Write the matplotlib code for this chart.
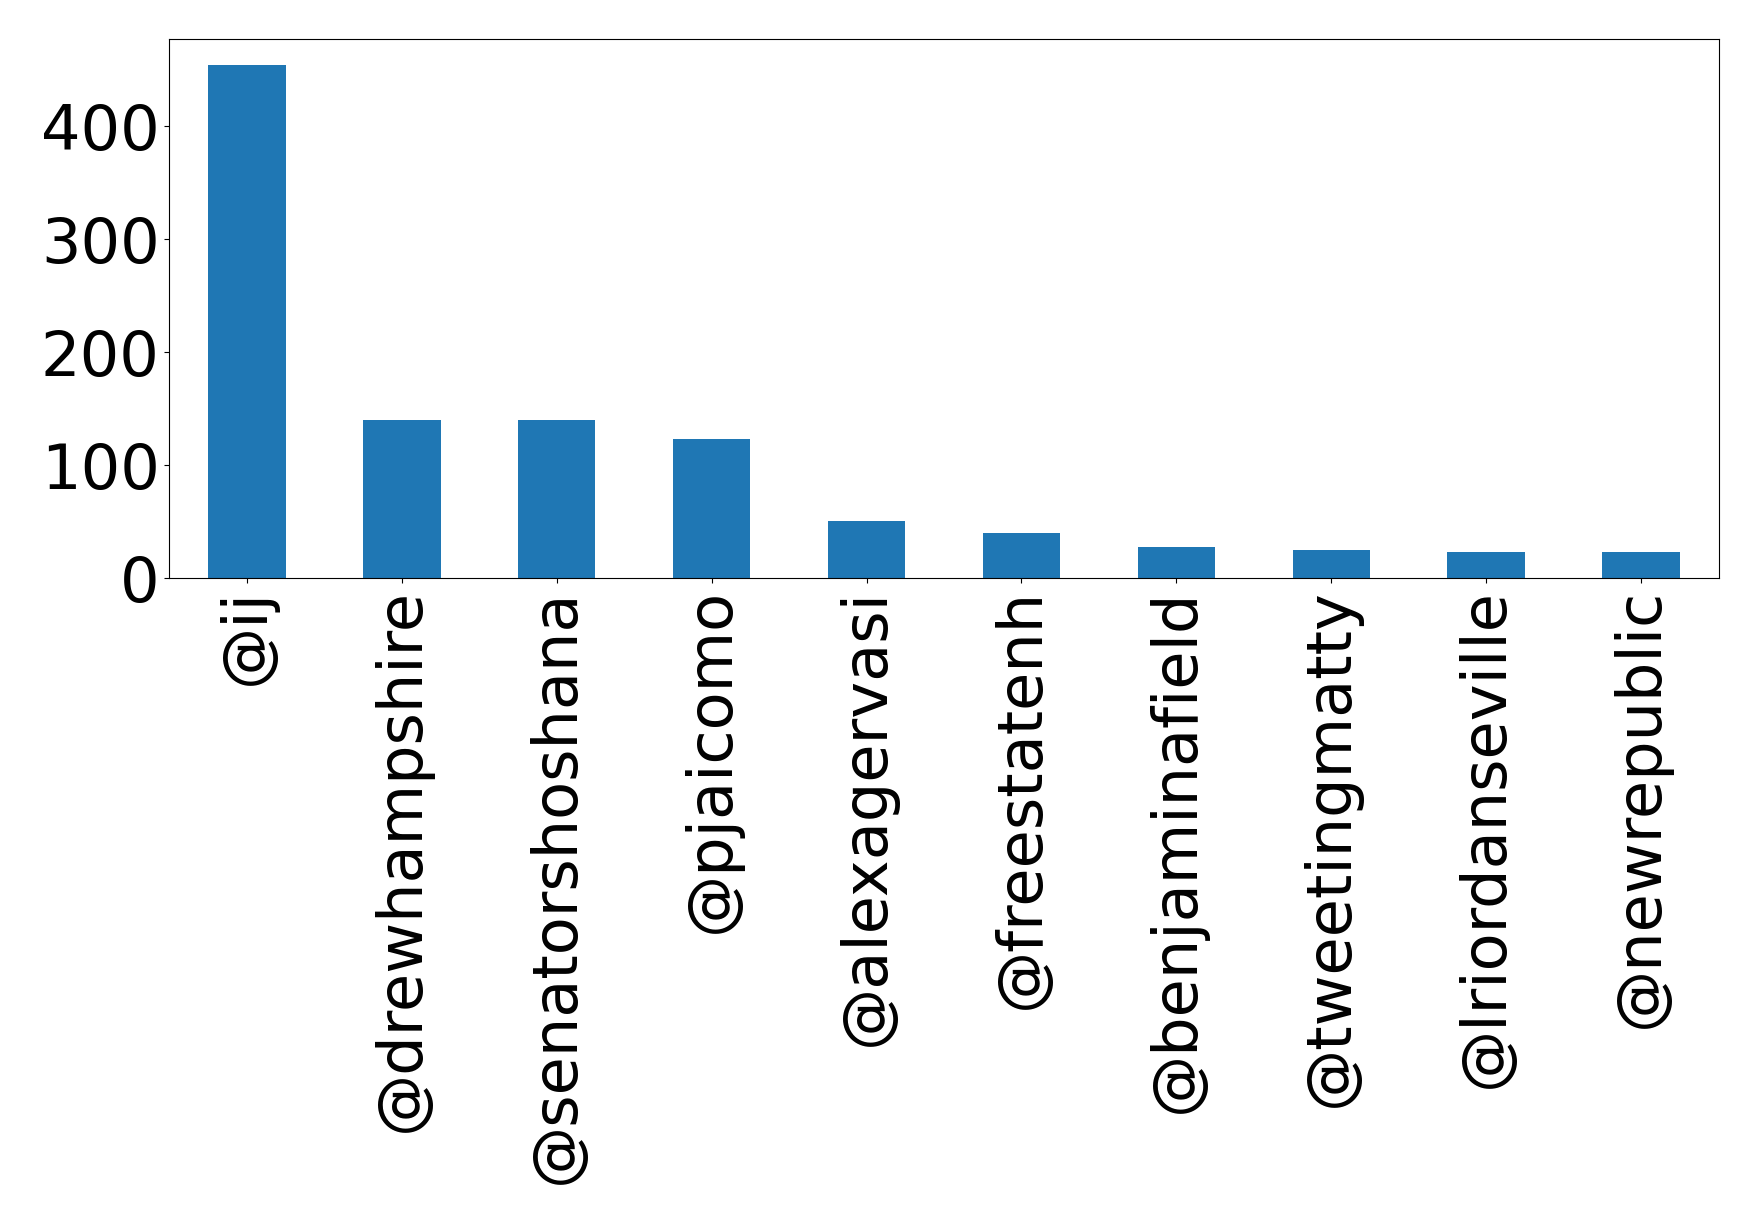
import matplotlib
matplotlib.use("Agg")
import matplotlib.pyplot as plt

users = ["@ij", "@drewhampshire", "@senatorshoshana", "@pjaicomo", "@alexagervasi",
         "@freestatenh", "@benjaminafield", "@tweetingmatty", "@lriordanseville", "@newrepublic"]
counts = [454, 140, 140, 123, 51, 40, 28, 25, 23, 23]
yticks = [0, 100, 200, 300, 400]

fig = plt.figure(figsize=(17.59, 12.26), dpi=100)
ax = fig.add_axes([169.4/1759, 1 - 578.3/1226, (1718.6-169.4)/1759, (578.3-39.3)/1226])
x = list(range(len(users)))
ax.bar(x, counts, width=0.5, color="#1f77b4")
ax.set_xlim(-0.5, len(users) - 0.5)
ax.set_xticks(x)
ax.set_xticklabels(users, rotation=90, fontsize=44.8)
ax.set_yticks(yticks)
ax.tick_params(axis="y", labelsize=44.8)
fig.savefig("out.png", dpi=100)
